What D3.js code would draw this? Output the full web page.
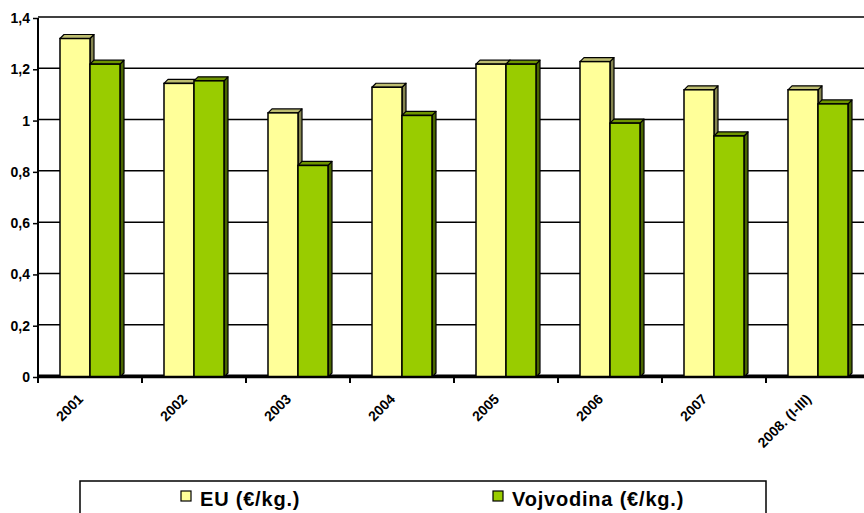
<!DOCTYPE html>
<html>
<head>
<meta charset="utf-8">
<script src="https://cdn.jsdelivr.net/npm/d3@7"></script>
<style>
  html, body { margin: 0; padding: 0; background: #fff; overflow: hidden; }
  svg { display: block; font-family: "Liberation Sans", Arial, sans-serif; }
</style>
</head>
<body>
<svg id="chart" width="864" height="513"></svg>
<script>
const categories = ["2001", "2002", "2003", "2004", "2005", "2006", "2007", "2008. (I-III)"];
const seriesNames = ["EU (€/kg.)", "Vojvodina (€/kg.)"];
const euValues = [1.32, 1.145, 1.03, 1.13, 1.22, 1.23, 1.12, 1.12];
const vojValues = [1.22, 1.155, 0.825, 1.02, 1.22, 0.99, 0.94, 1.065];
const yTicks = [0, 0.2, 0.4, 0.6, 0.8, 1, 1.2, 1.4];

const colors = {
  front: ["#FFFF99", "#99CC00"],
  top:   ["#BDBD70", "#6E9400"],
  side:  ["#85854F", "#4A6600"]
};

const svg = d3.select("#chart");
const plotLeft = 38, plotRight = 38 + 104 * 8, plotTop = 18, plotBottom = 377;
const depth = 4;

const x = d3.scaleBand().domain(categories).range([plotLeft, plotRight]).paddingInner(0).paddingOuter(0);
const x1 = d3.scaleBand().domain([0, 1]).range([0, x.bandwidth()]).paddingInner(0).paddingOuter(0.7333);
const y = d3.scaleLinear().domain([0, 1.4]).range([plotBottom, plotTop]);

// gridlines
svg.append("g").selectAll("line").data(yTicks.filter(d => d > 0)).join("line")
  .attr("x1", plotLeft).attr("x2", 864)
  .attr("y1", d => y(d) - 1).attr("y2", d => y(d) - 1)
  .attr("stroke", "#000").attr("stroke-width", 1.5);

// floor
svg.append("line").attr("x1", plotLeft).attr("x2", 864).attr("y1", plotBottom - 1).attr("y2", plotBottom - 1)
  .attr("stroke", "#000").attr("stroke-width", 3);

// bars
const data = [];
categories.forEach((c, i) => {
  [euValues[i], vojValues[i]].forEach((v, s) => data.push({ c, s, v }));
});

const barG = svg.append("g");
data.forEach(d => {
  const x0 = x(d.c) + x1(d.s);
  const w = x1.bandwidth();
  const yt = y(d.v);
  const g = barG.append("g");
  g.append("path")
    .attr("d", `M${x0 + w},${yt} L${x0 + w + depth},${yt - depth} L${x0 + w + depth},${plotBottom - depth} L${x0 + w},${plotBottom} Z`)
    .attr("fill", colors.side[d.s]).attr("stroke", "#000").attr("stroke-width", 1.2).attr("stroke-linejoin", "round");
  g.append("path")
    .attr("d", `M${x0},${yt} L${x0 + depth},${yt - depth} L${x0 + w + depth},${yt - depth} L${x0 + w},${yt} Z`)
    .attr("fill", colors.top[d.s]).attr("stroke", "#000").attr("stroke-width", 1.2).attr("stroke-linejoin", "round");
  g.append("rect")
    .attr("x", x0).attr("y", yt).attr("width", w).attr("height", plotBottom - yt)
    .attr("fill", colors.front[d.s]).attr("stroke", "#000").attr("stroke-width", 1.5);
});

// y axis
const yAxis = d3.axisLeft(y).tickValues(yTicks).tickSize(5).tickPadding(3)
  .tickFormat(d => String(d).replace(".", ","));
const yg = svg.append("g").attr("transform", `translate(${plotLeft},0)`).call(yAxis);
yg.select(".domain").attr("d", `M-0,${plotTop}V${plotBottom + 5}`).attr("stroke-width", 2);
yg.selectAll(".tick line").attr("stroke-width", 1.5);
yg.selectAll("text").attr("font-size", 14).attr("font-weight", "bold").attr("fill", "#000")
  .attr("font-family", "Liberation Sans, Arial, sans-serif");

// x axis
const xAxis = d3.axisBottom(x).tickSize(0).tickFormat(d => d);
const xg = svg.append("g").attr("transform", `translate(0,${plotBottom})`).call(xAxis);
xg.select(".domain").attr("d", `M${plotLeft},0H864`).attr("stroke-width", 2.5);
xg.selectAll(".bt").data(categories).join("line").attr("class", "bt")
  .attr("x1", d => x(d)).attr("x2", d => x(d)).attr("y1", 0).attr("y2", 6)
  .attr("stroke", "#000").attr("stroke-width", 2);
xg.selectAll(".tick text")
  .attr("font-size", 14).attr("font-weight", "bold").attr("fill", "#000")
  .attr("font-family", "Liberation Sans, Arial, sans-serif")
  .attr("text-anchor", "end")
  .attr("y", 0)
  .attr("dy", "0")
  .attr("transform", "translate(-6,23) rotate(-45)");

// legend
const lg = svg.append("g");
lg.append("rect").attr("x", 80).attr("y", 481).attr("width", 686).attr("height", 40)
  .attr("fill", "#fff").attr("stroke", "#000").attr("stroke-width", 1.5);
const legendX = [181, 493];
seriesNames.forEach((n, i) => {
  lg.append("rect").attr("x", legendX[i]).attr("y", 491).attr("width", 10).attr("height", 10)
    .attr("fill", colors.front[i]).attr("stroke", "#000").attr("stroke-width", 1.2);
  lg.append("text").attr("x", legendX[i] + 19).attr("y", 506)
    .attr("font-size", 20).attr("font-weight", "bold").attr("fill", "#000")
    .attr("letter-spacing", 0.8)
    .text(n);
});
</script>
</body>
</html>
